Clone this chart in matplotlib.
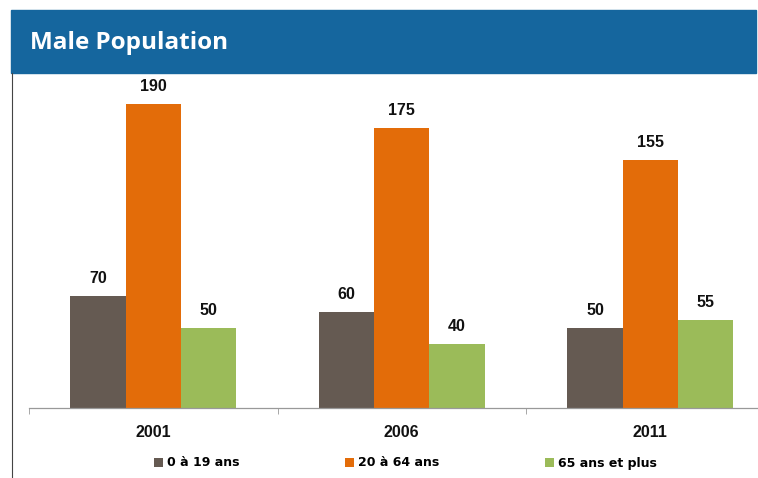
import numpy as np
import matplotlib
matplotlib.use("Agg")
import matplotlib.pyplot as plt
from matplotlib.patches import Rectangle
from matplotlib.lines import Line2D

# Données
years = ["2001", "2006", "2011"]
groups = ["0 à 19 ans", "20 à 64 ans", "65 ans et plus"]
age_0_19 = [70, 60, 50]
age_20_64 = [190, 175, 155]
age_65_plus = [50, 40, 55]
title = "Male Population"

colors = ["#655a52", "#e36c09", "#9bbb59"]
series = [age_0_19, age_20_64, age_65_plus]

W, H = 758, 478
fig = plt.figure(figsize=(W / 100, H / 100), dpi=100)
plt.rcParams["font.family"] = ["Liberation Sans", "DejaVu Sans"]

# bandeau du titre
fig.patches.append(Rectangle((11 / W, 1 - 73 / H), 745 / W, 63 / H,
                             transform=fig.transFigure, color="#15669e", zorder=0))
fig.text(30 / W, 1 - 43 / H, title, color="white", fontsize=17.5, fontweight="bold",
         va="center", ha="left", family=["Open Sans", "DejaVu Sans"])
# bordure gauche
fig.lines.append(Line2D([12 / W, 12 / W], [0, 1 - 73 / H], transform=fig.transFigure,
                        color="#444444", lw=0.8))

ax_left, ax_bottom, ax_top = 29, 408, 73
ax = fig.add_axes([ax_left / W, 1 - ax_bottom / H, (W - ax_left) / W, (ax_bottom - ax_top) / H])
unit = 248.5

x = np.arange(len(years))
bw = 55.3 / unit
for i, (vals, c, lab) in enumerate(zip(series, colors, groups)):
    pos = x + (i - 1) * bw
    ax.bar(pos, vals, bw, color=c, label=lab, zorder=2)
    for p, v in zip(pos, vals):
        ax.text(p, v + 6, str(v), ha="center", va="bottom", fontsize=11.5,
                fontweight="bold", color="#111111")

for s in ["top", "right", "left"]:
    ax.spines[s].set_visible(False)
ax.spines["bottom"].set_color("#999999")
ax.spines["bottom"].set_linewidth(0.9)
ax.set_yticks([])
ax.set_xticks(x)
ax.set_xticklabels(years, fontsize=11.5, fontweight="bold", color="#111111")
ax.tick_params(axis="x", which="major", length=0, pad=12)
ax.set_xticks([-0.5, 0.5, 1.5, 2.5], minor=True)
ax.tick_params(axis="x", which="minor", length=4, color="#999999")
ax.set_xlim(-0.5, -0.5 + (W - ax_left) / unit)
ax.set_ylim(0, (ax_bottom - ax_top) / 1.6)
ax.patch.set_alpha(0)

fig.legend(loc="center", bbox_to_anchor=(405.5 / W, 1 - 463 / H), ncol=3, frameon=False,
           handlelength=0.7, handleheight=0.7, handletextpad=0.3, columnspacing=8.5,
           prop={"size": 9, "weight": "bold", "family": "DejaVu Sans"})

fig.savefig("out.png", dpi=100)
